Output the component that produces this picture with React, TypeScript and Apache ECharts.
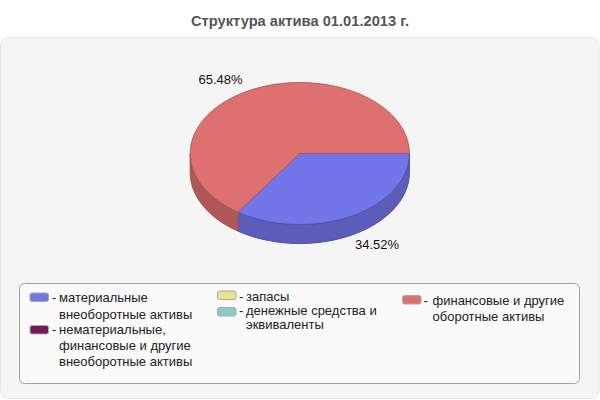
import React, { useEffect, useRef } from "react";
import * as echarts from "echarts";

const titleText = "Структура актива 01.01.2013 г.";
const categories = [
  "материальные внеоборотные активы",
  "нематериальные, финансовые и другие внеоборотные активы",
  "запасы",
  "денежные средства и эквиваленты",
  "финансовые и другие оборотные активы",
];
const values = [34.52, 0, 0, 0, 65.48];
const legendLines = [
  ["материальные", "внеоборотные активы"],
  ["нематериальные,", "финансовые и другие", "внеоборотные активы"],
  ["запасы"],
  ["денежные средства и", "эквиваленты"],
  ["финансовые и другие", "оборотные активы"],
];
const topColors = ["#7376E9", "#731A5A", "#E6E690", "#8CC9C9", "#DF7070"];
const sideColors = ["#5B5DB8", "#5A1447", "#B5B572", "#6E9E9E", "#B05858"];
const edgeColors = ["#4A4CA6", "#4A103A", "#A0A060", "#5E8A8A", "#A05050"];

const CX = 299.8, CY = 153.5, RX = 109.6, RY = 71, DEPTH = 19;
const FONT = "'Liberation Sans', Arial, sans-serif";
const labelPos: Record<number, [number, number]> = { 0: [377, 244], 4: [220.5, 79] };
const legendPos = [
  { sx: 30, sy: 293, tx: 59, dx: 52, lines: [297.7, 314] },
  { sx: 30, sy: 325.5, tx: 59, dx: 52, lines: [329.5, 345.5, 361] },
  { sx: 217.5, sy: 291, tx: 246, dx: 239, lines: [296] },
  { sx: 217.5, sy: 307.5, tx: 246, dx: 239, lines: [310, 324] },
  { sx: 402.5, sy: 295.5, tx: 432.5, dx: 423.5, lines: [300, 316] },
];

function arc(a0: number, a1: number, dy: number): number[][] {
  const n = Math.max(2, Math.ceil(Math.abs(a1 - a0) / 0.02));
  const pts: number[][] = [];
  for (let i = 0; i <= n; i++) {
    const a = a0 + ((a1 - a0) * i) / n;
    pts.push([CX + RX * Math.cos(a), CY + dy + RY * Math.sin(a)]);
  }
  return pts;
}

export default function App() {
  const ref = useRef<HTMLDivElement>(null);
  useEffect(() => {
    document.body.style.margin = "0";
    const chart = echarts.init(ref.current!, null, { renderer: "svg" });
    const total = values.reduce((a, b) => a + b, 0);
    const starts: number[] = [];
    values.reduce((acc, v, i) => {
      starts[i] = acc;
      return acc + v;
    }, 0);

    const renderItem = (_p: any, api: any) => {
      const i = api.value(0);
      const v = api.value(1);
      if (!v) return null;
      const a0 = (starts[i] / total) * 2 * Math.PI;
      const a1 = a0 + (v / total) * 2 * Math.PI;
      const children: any[] = [];
      // visible side wall: only the front half of the ellipse
      const s0 = Math.max(a0, 0);
      const s1 = Math.min(a1, Math.PI);
      if (s1 > s0) {
        const pts = [...arc(s0, s1, 0), ...arc(s1, s0, DEPTH)];
        children.push({
          type: "polygon",
          z2: 1,
          shape: { points: pts },
          style: { fill: sideColors[i], stroke: edgeColors[i], lineWidth: 1 },
        });
      }
      children.push({
        type: "polygon",
        z2: 2,
        shape: { points: [[CX, CY], ...arc(a0, a1, 0)] },
        style: { fill: topColors[i], stroke: edgeColors[i], lineWidth: 0.8 },
      });
      const lp = labelPos[i];
      if (lp) {
        children.push({
          type: "text",
          z2: 3,
          x: lp[0],
          y: lp[1],
          style: {
            text: v.toFixed(2) + "%",
            font: `13px ${FONT}`,
            fill: "#111111",
            textAlign: "center",
            textVerticalAlign: "middle",
          },
        });
      }
      return { type: "group", children };
    };

    const legendEls: any[] = [];
    categories.forEach((_c, i) => {
      const p = legendPos[i];
      legendEls.push({
        type: "rect",
        z: 5,
        shape: { x: p.sx, y: p.sy, width: 18.5, height: 8.5, r: 2 },
        style: { fill: topColors[i], stroke: "#a8a8a8", lineWidth: 1 },
      });
      legendEls.push({
        type: "text",
        z: 5,
        x: p.dx,
        y: p.lines[0],
        style: { text: "-", font: `13px ${FONT}`, fill: "#222222", textVerticalAlign: "middle" },
      });
      legendLines[i].forEach((t, j) => {
        legendEls.push({
          type: "text",
          z: 5,
          x: p.tx,
          y: p.lines[j],
          style: { text: t, font: `13px ${FONT}`, fill: "#222222", textVerticalAlign: "middle" },
        });
      });
    });

    chart.setOption({
      animation: false,
      backgroundColor: "#ffffff",
      title: {
        text: titleText,
        left: "center",
        top: 8,
        textStyle: { fontFamily: FONT, fontSize: 14.7, fontWeight: "bold", color: "#555555" },
      },
      graphic: [
        {
          type: "rect",
          z: -10,
          shape: { x: 0.5, y: 37.5, width: 598.5, height: 361, r: 8 },
          style: { fill: "#f5f5f5", stroke: "#e6e6e6", lineWidth: 1 },
        },
        {
          type: "rect",
          z: 4,
          shape: { x: 19.5, y: 283.5, width: 560, height: 100, r: 5 },
          style: { fill: "#fafafa", stroke: "#a0a0a0", lineWidth: 1 },
        },
        ...legendEls,
      ],
      series: [
        {
          type: "custom",
          coordinateSystem: "none",
          renderItem,
          silent: true,
          data: values.map((v, i) => [i, v]),
        },
      ],
    });
    return () => chart.dispose();
  }, []);
  return <div ref={ref} style={{ width: 600, height: 400 }} />;
}
